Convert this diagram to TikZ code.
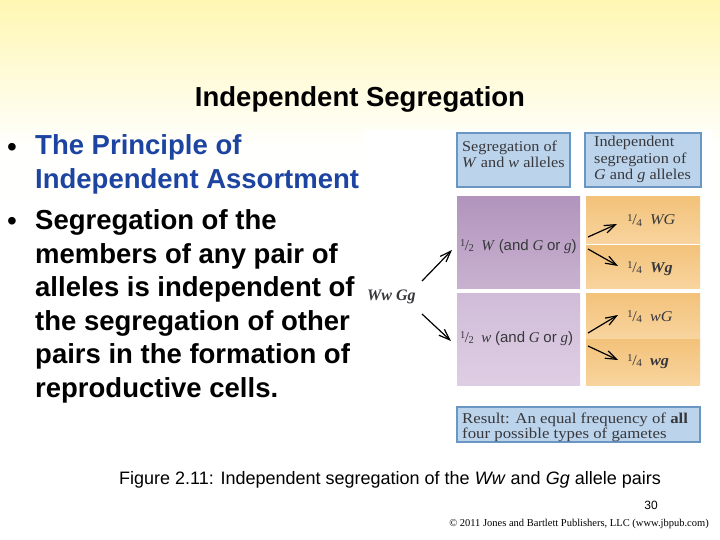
\documentclass[tikz,border=0pt]{standalone}
\usepackage{fontspec}
\setmainfont{Liberation Serif}
\setsansfont{Liberation Sans}
\newfontfamily\figfont[FakeStretch=1.08]{Liberation Serif}
\newfontfamily\resfont[FakeStretch=1.12]{Liberation Serif}
\usetikzlibrary{arrows.meta,shadings}
\definecolor{bgyel}{RGB}{255,247,178}
\definecolor{bluetxt}{RGB}{28,68,160}
\definecolor{bluefill}{RGB}{188,212,235}
\definecolor{blueline}{RGB}{105,150,195}
\definecolor{purAtop}{RGB}{178,148,188}
\definecolor{purAbot}{RGB}{200,178,208}
\definecolor{purBtop}{RGB}{208,188,216}
\definecolor{purBbot}{RGB}{222,206,228}
\definecolor{orgtop}{RGB}{243,194,122}
\definecolor{orgbot}{RGB}{248,212,158}
\definecolor{figtxt}{RGB}{55,55,60}
\newcommand{\myhalf}{{\raisebox{0.45ex}{\fontsize{10.5pt}{10pt}\selectfont 1}\kern-0.5pt/\kern-0.5pt\raisebox{-0.25ex}{\fontsize{10.5pt}{10pt}\selectfont 2}}}
\newcommand{\myquarter}{{\raisebox{0.45ex}{\fontsize{10.5pt}{10pt}\selectfont 1}\kern-0.5pt/\kern-0.5pt\raisebox{-0.25ex}{\fontsize{10.5pt}{10pt}\selectfont 4}}}
\begin{document}
\begin{tikzpicture}[x=1pt,y=-1pt,
  bigtxt/.style={inner sep=0pt,anchor=base west,font=\sffamily\bfseries\fontsize{27.5pt}{33pt}\selectfont},
  bul/.style={inner sep=0pt,anchor=base west,font=\sffamily\fontsize{28pt}{28pt}\selectfont},
  figlbl/.style={inner sep=0pt,anchor=base west,text=figtxt,font=\figfont\fontsize{15pt}{16pt}\selectfont},
  bluebox/.style={draw=blueline,line width=1.2pt,fill=bluefill},
  arr/.style={line width=1.2pt,-{Straight Barb[length=11pt,width=8pt]}}]
\useasboundingbox (0,0) rectangle (720,540);
% background
\fill[white] (0,0) rectangle (720,540);
\shade[top color=bgyel,bottom color=white] (0,0) rectangle (720,150);
\fill[white!98!bgyel] (0,150) rectangle (720,200);
\fill[white] (365,130) rectangle (712,455);
% title
\node[inner sep=0pt,anchor=base,font=\sffamily\bfseries\fontsize{27.5pt}{33pt}\selectfont] (title) at (360,107) {Independent Segregation};
% bullets
\node[bul] (b1) at (7,157) {•};
\node[bigtxt,text=bluetxt] (l1) at (35,155) {The Principle of};
\node[bigtxt,text=bluetxt] (l2) at (35,188.5) {Independent Assortment};
\node[bul] (b2) at (7,230) {•};
\node[bigtxt] (l3) at (35,229.5) {Segregation of the};
\node[bigtxt] (l4) at (35,263) {members of any pair of};
\node[bigtxt] (l5) at (35,296.5) {alleles is independent of};
\node[bigtxt] (l6) at (35,330) {the segregation of other};
\node[bigtxt] (l7) at (35,363.5) {pairs in the formation of};
\node[bigtxt] (l8) at (35,397) {reproductive cells.};
% header boxes
\path[bluebox] (457,133) rectangle (570,187);
\path[bluebox] (585,133) rectangle (701,187);
\node[figlbl] (h1a) at (462,152) {Segregation of};
\node[figlbl] (h1b) at (462,168) {\textit{W} and \textit{w} alleles};
\node[figlbl] (h2a) at (594,147) {Independent};
\node[figlbl] (h2b) at (594,163.5) {segregation of};
\node[figlbl] (h2c) at (594,180) {\textit{G} and \textit{g} alleles};
% purple boxes
\shade[top color=purAtop,bottom color=purAbot] (457,197) rectangle (580,288);
\shade[top color=purBtop,bottom color=purBbot] (457,293) rectangle (580,385);
% orange boxes
\shade[top color=orgtop,bottom color=orgbot] (586,197) rectangle (700,243.5);
\shade[top color=orgtop,bottom color=orgbot] (586,245) rectangle (700,288);
\shade[top color=orgtop,bottom color=orgbot] (586,293) rectangle (700,338);
\shade[top color=orgtop,bottom color=orgbot] (586,339.5) rectangle (700,385);
% purple labels
\node[figlbl,font=\fontsize{15pt}{16pt}\selectfont] (pW) at (460,250) {\myhalf\ \ \textit{W} \textsf{(and} \textit{G} \textsf{or} \textit{g}\textsf{)}};
\node[figlbl,font=\fontsize{15pt}{16pt}\selectfont] (pw) at (460,342) {\myhalf\ \ \textit{w} \textsf{(and} \textit{G} \textsf{or} \textit{g}\textsf{)}};
% orange labels
\node[figlbl] (oWG) at (627,225) {\myquarter\ \ \textit{WG}};
\node[figlbl] (oWg) at (627,272) {\myquarter\ \ \textit{\textbf{Wg}}};
\node[figlbl] (owG) at (627,321) {\myquarter\ \ \textit{wG}};
\node[figlbl] (owg) at (627,365) {\myquarter\ \ \textit{\textbf{wg}}};
% genotype
\node[inner sep=0pt,anchor=base west,text=figtxt,font=\bfseries\itshape\fontsize{16pt}{16pt}\selectfont] (geno) at (367,300) {Ww Gg};
% arrow end points
\coordinate (g1s) at (422,281);
\coordinate (g1e) at (452,250);
\coordinate (g2s) at (422,314);
\coordinate (g2e) at (451,341);
\coordinate (o1s) at (588,237);
\coordinate (o1e) at (617,224);
\coordinate (o2s) at (588,249);
\coordinate (o2e) at (618,266);
\coordinate (o3s) at (588,333);
\coordinate (o3e) at (618,315);
\coordinate (o4s) at (588,346);
\coordinate (o4e) at (618,360);
\draw[arr] (g1s) -- (g1e);
\draw[arr] (g2s) -- (g2e);
\draw[arr] (o1s) -- (o1e);
\draw[arr] (o2s) -- (o2e);
\draw[arr] (o3s) -- (o3e);
\draw[arr] (o4s) -- (o4e);
% result box
\path[bluebox] (457,407) rectangle (700,442);
\node[figlbl,font=\resfont\fontsize{15pt}{14pt}\selectfont] (r1) at (462,423.5) {Result: An equal frequency of \textbf{all}};
\node[figlbl,font=\resfont\fontsize{15pt}{14pt}\selectfont] (r2) at (462,438) {four possible types of gametes};
% caption
\node[inner sep=0pt,anchor=base,font=\sffamily\fontsize{18pt}{18pt}\selectfont] (cap) at (390,484) {Figure 2.11: Independent segregation of the \textit{Ww} and \textit{Gg} allele pairs};
\node[inner sep=0pt,anchor=base,font=\sffamily\fontsize{12pt}{12pt}\selectfont] (pg) at (651,509) {30};
\node[inner sep=0pt,anchor=base,font=\fontsize{10.5pt}{12pt}\selectfont] (copy) at (579,526) {© 2011 Jones and Bartlett Publishers, LLC (www.jbpub.com)};
\end{tikzpicture}
\end{document}
